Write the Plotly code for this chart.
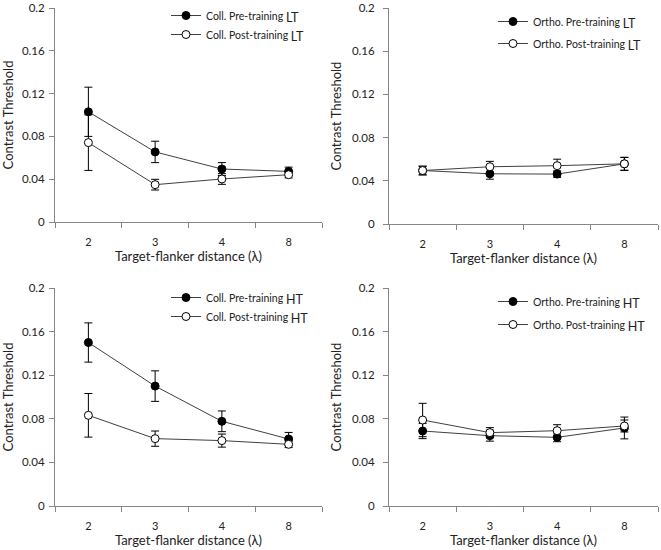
import plotly.graph_objects as go

# flanker distances (lambda)
distances = ['2', '3', '4', '8']

# collinear, low threshold
coll_lt_pre = [0.103, 0.0655, 0.0495, 0.0473]
coll_lt_pre_err = [0.023, 0.010, 0.006, 0.004]
coll_lt_post = [0.0742, 0.0349, 0.0402, 0.0442]
coll_lt_post_err = [0.026, 0.005, 0.005, 0.003]

# orthogonal, low threshold
ortho_lt_pre = [0.0495, 0.0465, 0.0462, 0.0557]
ortho_lt_pre_err = [0.004, 0.005, 0.003, 0.006]
ortho_lt_post = [0.0495, 0.053, 0.054, 0.0557]
ortho_lt_post_err = [0.004, 0.005, 0.006, 0.006]

# collinear, high threshold
coll_ht_pre = [0.150, 0.110, 0.0777, 0.0615]
coll_ht_pre_err = [0.018, 0.014, 0.0095, 0.006]
coll_ht_post = [0.0832, 0.0618, 0.060, 0.0566]
coll_ht_post_err = [0.020, 0.007, 0.006, 0.003]

# orthogonal, high threshold
ortho_ht_pre = [0.0688, 0.0645, 0.063, 0.0716]
ortho_ht_pre_err = [0.007, 0.005, 0.004, 0.010]
ortho_ht_post = [0.0789, 0.0673, 0.0691, 0.0734]
ortho_ht_post_err = [0.0153, 0.0046, 0.0055, 0.0055]

y_ticks = [0, 0.04, 0.08, 0.12, 0.16, 0.2]
y_ticktext = ['0', '0.04', '0.08', '0.12', '0.16', '0.2']

FONT = 'Lato'
W, H = 661, 550

panels = [
    # xaxis, yaxis, legend, prefix, tag, pre, pre_err, post, post_err,
    # x domain (px), y domain (px), legend pos (px), legend row gap, y label standoff
    ('x', 'y', 'legend', 'Coll.', 'LT', coll_lt_pre, coll_lt_pre_err, coll_lt_post, coll_lt_post_err,
     (55, 322), (8, 222), (166, 1), 0, 2),
    ('x2', 'y2', 'legend2', 'Ortho.', 'LT', ortho_lt_pre, ortho_lt_pre_err, ortho_lt_post, ortho_lt_post_err,
     (389, 658), (8, 224), (493, 7), 3, 6),
    ('x3', 'y3', 'legend3', 'Coll.', 'HT', coll_ht_pre, coll_ht_pre_err, coll_ht_post, coll_ht_post_err,
     (55, 322), (288, 506), (166, 283), 0, 2),
    ('x4', 'y4', 'legend4', 'Ortho.', 'HT', ortho_ht_pre, ortho_ht_pre_err, ortho_ht_post, ortho_ht_post_err,
     (389, 658), (288, 506), (493, 287), 4, 6),
]

fig = go.Figure()
layout = {}

for (xa, ya, leg, prefix, tag, pre, pre_err, post, post_err, xd, yd, lpos, gap, ystand) in panels:
    def lbl(phase):
        return "%s %s-training <sub><span style='font-size:12.5px'>%s</span></sub>" % (prefix, phase, tag)

    fig.add_trace(go.Scatter(
        x=distances, y=pre, xaxis=xa, yaxis=ya, legend=leg, legendgroup=leg + 'pre',
        name=lbl('Pre'), mode='lines+markers',
        line=dict(color='#404040', width=1),
        marker=dict(symbol='circle', size=8, color='black', line=dict(color='black', width=1)),
        error_y=dict(type='data', array=pre_err, color='black', thickness=1, width=4),
    ))
    fig.add_trace(go.Scatter(
        x=distances, y=post, xaxis=xa, yaxis=ya, legend=leg, legendgroup=leg + 'post',
        name=lbl('Post'), mode='lines+markers',
        line=dict(color='#404040', width=1),
        marker=dict(symbol='circle', size=8, color='white', line=dict(color='black', width=1)),
        error_y=dict(type='data', array=post_err, color='black', thickness=1, width=4),
    ))

    xkey = 'xaxis' + xa[1:]
    ykey = 'yaxis' + ya[1:]
    layout[xkey] = dict(
        domain=[xd[0] / W, xd[1] / W], anchor=ya, automargin=False,
        type='category', range=[-0.5, 3.5], tickson='boundaries', ticks='outside', ticklen=5,
        tickcolor='#868686', showline=True, linecolor='#868686', linewidth=1,
        showgrid=False, zeroline=False, ticklabelstandoff=10,
        tickfont=dict(family=FONT, size=11, color='#222222'),
        title=dict(text='Target-flanker distance (λ)', standoff=0,
                   font=dict(family=FONT, size=13, color='#222222')),
    )
    layout[ykey] = dict(
        domain=[1 - yd[1] / H, 1 - yd[0] / H], anchor=xa, automargin=False,
        range=[0, 0.2], tickvals=y_ticks, ticktext=y_ticktext, ticklabeloverflow='allow',
        ticks='outside', ticklen=5, tickcolor='#868686',
        showline=True, linecolor='#868686', linewidth=1,
        showgrid=False, zeroline=False, ticklabelstandoff=ystand,
        tickfont=dict(family=FONT, size=11.5, color='#222222'),
        title=dict(text='Contrast Threshold', standoff=7,
                   font=dict(family=FONT, size=13, color='#222222')),
    )
    layout[leg] = dict(
        x=lpos[0] / W, y=1 - lpos[1] / H, xanchor='left', yanchor='top',
        bgcolor='rgba(0,0,0,0)', itemwidth=30,
        traceorder='grouped', tracegroupgap=gap,
        font=dict(family=FONT, size=10.5, color='#222222'),
    )

fig.update_layout(
    width=W, height=H,
    margin=dict(l=0, r=0, t=0, b=0),
    paper_bgcolor='white', plot_bgcolor='white',
    showlegend=True,
    **layout
)

# drop the default page margin so the figure sits at the window corner
fig.write_html('out.html', config={'displayModeBar': False},
               post_script="document.body.style.margin='0px';")
